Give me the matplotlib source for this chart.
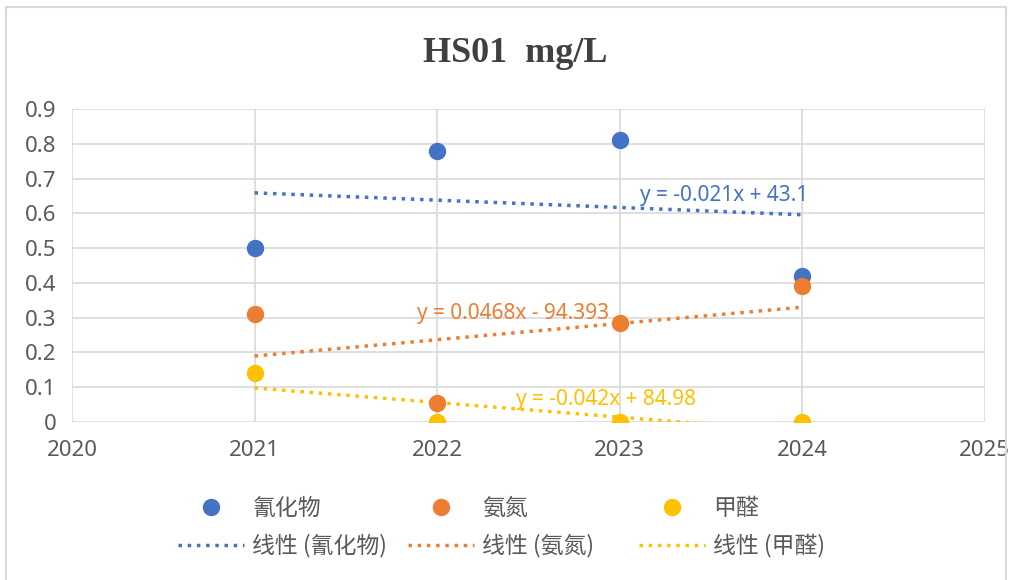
import numpy as np
import matplotlib.pyplot as plt
from matplotlib.patches import Rectangle

plt.rcParams['font.family'] = ['Noto Sans CJK SC', 'DejaVu Sans']

years = [2021, 2022, 2023, 2024]
cyanide = [0.50, 0.78, 0.81, 0.42]
ammonia = [0.31, 0.056, 0.284, 0.39]
formald = [0.14, 0.0, 0.0, 0.0]
names = ['氰化物', '氨氮', '甲醛']
colors = ['#4472C4', '#ED7D31', '#FFC000']
eq_text = ['y = -0.021x + 43.1', 'y = 0.0468x - 94.393', 'y = -0.042x + 84.98']
eq_pos = [(2023.11, 0.652), (2021.89, 0.313), (2022.43, 0.066)]
legend_x = [178, 408, 639]

fig = plt.figure(figsize=(10.1, 5.8), dpi=100)
fig.patches.append(Rectangle((0.006, -0.01), 0.99, 0.998, transform=fig.transFigure,
                             fill=False, edgecolor='#D9D9D9', linewidth=1.5))
ax = fig.add_axes([0.0713, 0.2724, 0.9037, 0.5396])

latin = ['Noto Sans', 'Noto Sans CJK SC']
for vals, name, c, txt, pos, lx in zip([cyanide, ammonia, formald], names, colors,
                                         eq_text, eq_pos, legend_x):
    pt, = ax.plot(years, vals, 'o', color=c, markersize=11.5, label=name, zorder=3)
    k, b = np.polyfit(years, vals, 1)
    xs = np.array([years[0], years[-1]])
    ln, = ax.plot(xs, k * xs + b, ':', color=c, linewidth=2.5, label='线性 (' + name + ')', zorder=2)
    ax.text(pos[0], pos[1], txt, color=c, fontsize=15, family=latin,
            va='center', ha='left', zorder=4)
    fig.legend(handles=[pt, ln], loc='upper left', bbox_to_anchor=(lx / 1010, 1 - 497 / 580),
               frameon=False, fontsize=16.5, labelcolor='#595959', borderpad=0,
               borderaxespad=0, handlelength=2.9, handletextpad=0.35, labelspacing=0.6)

ax.set_xlim(2020, 2025)
ax.set_ylim(0, 0.9)
ax.set_xticks(range(2020, 2026))
ax.set_yticks(np.arange(0, 0.91, 0.1))
ax.set_yticklabels(['0'] + ['%.1f' % v for v in np.arange(0.1, 0.91, 0.1)])
ax.grid(True, color='#D9D9D9', linewidth=1.2)
ax.set_axisbelow(True)
for s in ax.spines.values():
    s.set_visible(False)
ax.tick_params(length=0, labelsize=16, colors='#595959', labelfontfamily='Noto Sans')
ax.tick_params(axis='x', pad=13)
ax.tick_params(axis='y', pad=11)

fig.text(0.51, 0.908, 'HS01  mg/L', ha='center', va='center', fontsize=26,
         fontweight='bold', family='Liberation Serif', color='#404040')

fig.savefig('out.png', dpi=100)
